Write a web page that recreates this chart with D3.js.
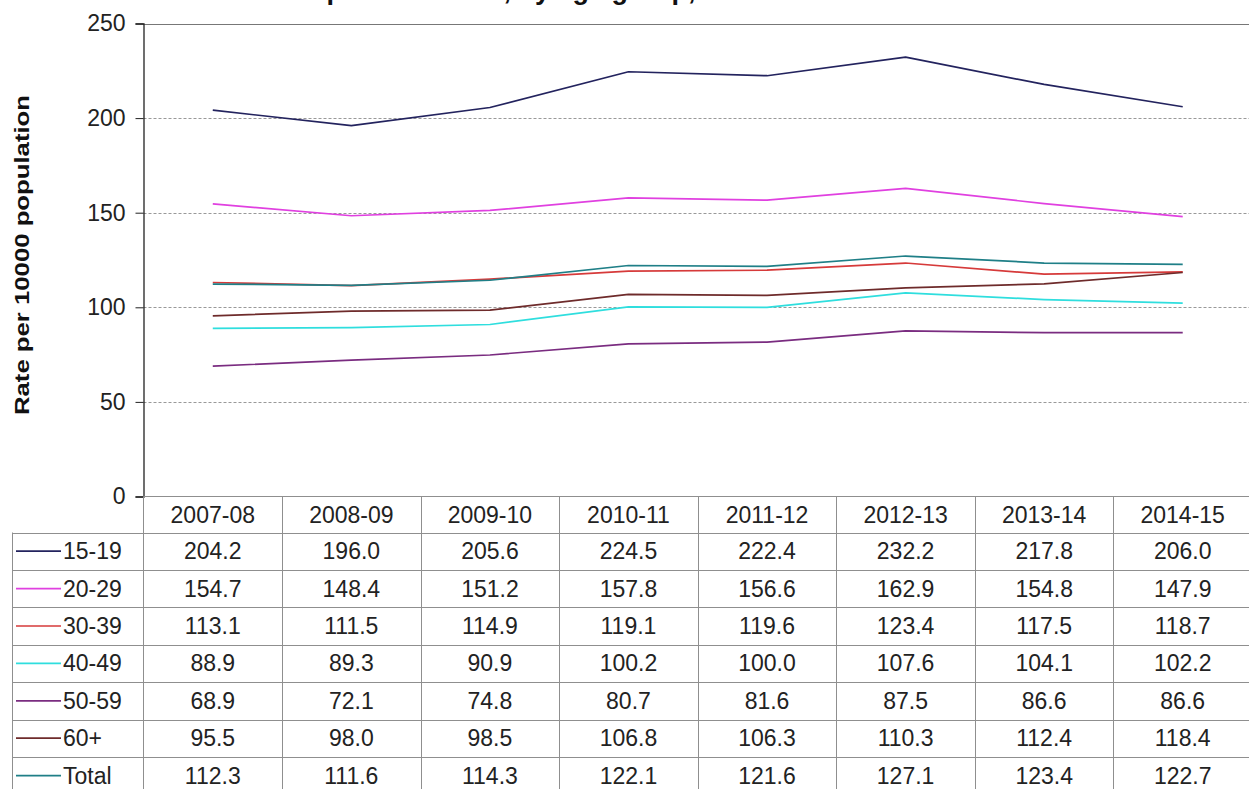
<!DOCTYPE html>
<html>
<head>
<meta charset="utf-8">
<script src="https://cdn.jsdelivr.net/npm/d3@7"></script>
<style>
  html, body { margin: 0; padding: 0; background: #fff; }
  svg { display: block; }
  text { font-family: Arial, "Liberation Sans", sans-serif; }
</style>
</head>
<body>
<svg id="chart" width="1249" height="789"></svg>
<script>
// Financial years along the x axis
const years = ["2007-08", "2008-09", "2009-10", "2010-11", "2011-12", "2012-13", "2013-14", "2014-15"];

// Age groups (series) and their rates per 10000 population
const groups = ["15-19", "20-29", "30-39", "40-49", "50-59", "60+", "Total"];
const rate1519  = [204.2, 196.0, 205.6, 224.5, 222.4, 232.2, 217.8, 206.0];
const rate2029  = [154.7, 148.4, 151.2, 157.8, 156.6, 162.9, 154.8, 147.9];
const rate3039  = [113.1, 111.5, 114.9, 119.1, 119.6, 123.4, 117.5, 118.7];
const rate4049  = [88.9, 89.3, 90.9, 100.2, 100.0, 107.6, 104.1, 102.2];
const rate5059  = [68.9, 72.1, 74.8, 80.7, 81.6, 87.5, 86.6, 86.6];
const rate60    = [95.5, 98.0, 98.5, 106.8, 106.3, 110.3, 112.4, 118.4];
const rateTotal = [112.3, 111.6, 114.3, 122.1, 121.6, 127.1, 123.4, 122.7];
const seriesValues = [rate1519, rate2029, rate3039, rate4049, rate5059, rate60, rateTotal];
const seriesColors = ["#23235e", "#e040e0", "#d63a3a", "#2fdede", "#7a2c80", "#6e2b2b", "#1f7f87"];

// Y axis ticks
const yTicks = [0, 50, 100, 150, 200, 250];

const titleText = "presentations, by age group, 2007-08 to 2014-15";
const yLabel = "Rate per 10000 population";

// Layout
const W = 1249, H = 789;
const plotLeft = 143.5, plotRight = 1252, plotTop = 23.5, plotBottom = 496.5;
const tableLeft = 12.5;
const headerBottom = 532.5;
const rowH = 37.4;
const gridColor = "#8f8f8f";

const svg = d3.select("#chart");

const x = d3.scaleBand().domain(years).range([plotLeft, plotRight]).padding(0);
const y = d3.scaleLinear().domain([0, 250]).range([plotBottom, plotTop]);
const cx = d => x(d) + x.bandwidth() / 2;

// Title (runs off the top edge; only its lowest strokes show)
svg.append("text")
  .attr("x", 634).attr("y", -1)
  .attr("text-anchor", "middle")
  .attr("font-size", 27).attr("font-weight", "bold").attr("fill", "#111")
  .text(titleText);

// Gridlines
svg.append("g")
  .selectAll("line")
  .data(yTicks.filter(t => t > 0))
  .join("line")
  .attr("x1", plotLeft).attr("x2", W)
  .attr("y1", d => Math.round(y(d)) + 0.5).attr("y2", d => Math.round(y(d)) + 0.5)
  .attr("stroke", d => d === 250 ? "#777" : "#999")
  .attr("stroke-width", 1)
  .attr("stroke-dasharray", d => d === 250 ? null : "3,2");

// Y axis
const yAxis = svg.append("g")
  .attr("transform", `translate(${plotLeft},0)`)
  .call(d3.axisLeft(y).tickValues(yTicks).tickSize(8).tickPadding(10).tickFormat(d3.format("d")));
yAxis.select(".domain").attr("stroke", "#222").attr("stroke-width", 1.3);
yAxis.selectAll(".tick line").attr("stroke", "#222");
yAxis.selectAll(".tick text")
  .attr("font-size", 23).attr("fill", "#222")
  .attr("font-family", "Arial, 'Liberation Sans', sans-serif");

// Y axis label
svg.append("text")
  .attr("transform", `translate(29,255) rotate(-90)`)
  .attr("text-anchor", "middle")
  .attr("font-size", 19.5).attr("font-weight", "bold").attr("fill", "#111")
  .attr("textLength", 320).attr("lengthAdjust", "spacingAndGlyphs")
  .text(yLabel);

// Series lines
const line = d3.line().x((d, i) => cx(years[i])).y(d => y(d));
svg.append("g")
  .selectAll("path")
  .data(seriesValues)
  .join("path")
  .attr("d", d => line(d))
  .attr("fill", "none")
  .attr("stroke", (d, i) => seriesColors[i])
  .attr("stroke-width", 1.7)
  .attr("stroke-linejoin", "round");

// Data table
const table = svg.append("g");
const rowTop = i => headerBottom + i * rowH;

// Horizontal rules
table.append("line")
  .attr("x1", plotLeft).attr("x2", W).attr("y1", plotBottom).attr("y2", plotBottom)
  .attr("stroke", gridColor);
table.selectAll("line.row")
  .data(d3.range(groups.length + 1))
  .join("line").attr("class", "row")
  .attr("x1", tableLeft).attr("x2", W)
  .attr("y1", i => Math.round(rowTop(i)) + 0.5).attr("y2", i => Math.round(rowTop(i)) + 0.5)
  .attr("stroke", gridColor);

// Vertical rules
table.append("line")
  .attr("x1", tableLeft).attr("x2", tableLeft).attr("y1", headerBottom).attr("y2", H)
  .attr("stroke", gridColor);
table.selectAll("line.col")
  .data(years.slice(1))
  .join("line").attr("class", "col")
  .attr("x1", d => Math.round(x(d)) + 0.5).attr("x2", d => Math.round(x(d)) + 0.5)
  .attr("y1", plotBottom).attr("y2", H)
  .attr("stroke", gridColor);
table.append("line")
  .attr("x1", plotLeft).attr("x2", plotLeft).attr("y1", plotBottom).attr("y2", H)
  .attr("stroke", gridColor);

// Header: years
table.selectAll("text.year")
  .data(years)
  .join("text").attr("class", "year")
  .attr("x", d => cx(d)).attr("y", (plotBottom + headerBottom) / 2 + 8)
  .attr("text-anchor", "middle")
  .attr("font-size", 23).attr("fill", "#222")
  .text(d => d);

// Rows: legend key + label + values
groups.forEach((g, gi) => {
  const mid = rowTop(gi) + rowH / 2;
  table.append("line")
    .attr("x1", 16).attr("x2", 61)
    .attr("y1", mid).attr("y2", mid)
    .attr("stroke", seriesColors[gi]).attr("stroke-width", 1.7);
  table.append("text")
    .attr("x", 63).attr("y", mid + 8)
    .attr("font-size", 23).attr("fill", "#222")
    .text(g);
  table.selectAll(null)
    .data(seriesValues[gi])
    .join("text")
    .attr("x", (d, i) => cx(years[i])).attr("y", mid + 8)
    .attr("text-anchor", "middle")
    .attr("font-size", 23).attr("fill", "#222")
    .text(d => d3.format(".1f")(d));
});
</script>
</body>
</html>
